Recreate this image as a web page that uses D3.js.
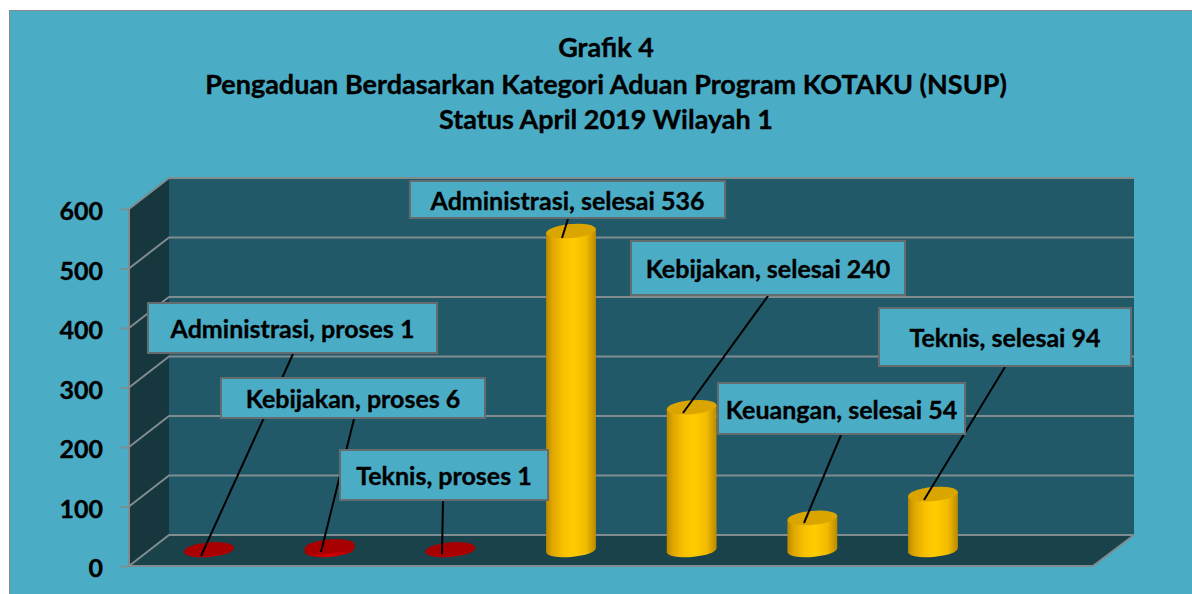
<!DOCTYPE html>
<html><head><meta charset="utf-8">
<script src="https://cdn.jsdelivr.net/npm/d3@7"></script>
<style>html,body{margin:0;padding:0;background:#fff;overflow:hidden}svg{display:block}text{font-family:Lato,sans-serif;font-weight:700;fill:#000;stroke:#000;stroke-width:.35px}</style>
</head><body><svg id="c" width="1192" height="594"></svg>
<script>
const titleLines = ["Grafik 4","Pengaduan Berdasarkan Kategori Aduan Program KOTAKU (NSUP)","Status April 2019 Wilayah 1"];
const categories = ["Administrasi","Kebijakan","Teknis","Administrasi","Kebijakan","Keuangan","Teknis"];
const statuses = ["proses","proses","proses","selesai","selesai","selesai","selesai"];
const values = [1,6,1,536,240,54,94];
const yTicks = [0,100,200,300,400,500,600];
// label layout: box x,y,w,h; leader start and end
const labelBoxes = [[148,303,289,50],[221,378,264,40],[340,450,208,50],[410,181,315,37],[631,241,274,54],[718,383,247,51],[879,308,252,58]];
const leaderStarts = [[293,354],[354,419],[443,501],[568,219],[768,296],[841,435],[1005,367]];
const leaderEnds = [[201,556],[321,552],[442,554],[562,238],[683,413],[804,523],[924,500]];

const svg = d3.select("#c");
const defs = svg.append("defs");
function grad(id,stops){const g=defs.append("linearGradient").attr("id",id).attr("x1",0).attr("x2",1).attr("y1",0).attr("y2",0);
 stops.forEach(s=>g.append("stop").attr("offset",s[0]).attr("stop-color",s[1]));}
grad("gold",[[0,"#b98a00"],[.12,"#dfa600"],[.35,"#f9c200"],[.55,"#ffcc00"],[.8,"#f2bb00"],[1,"#b98a00"]]);
grad("redg",[[0,"#a00000"],[.5,"#d80000"],[1,"#a00000"]]);

svg.append("rect").attr("x",9).attr("y",10).attr("width",1183).attr("height",584).attr("fill","#8a8a8a");
svg.append("rect").attr("x",10).attr("y",11).attr("width",1182).attr("height",583).attr("fill","#4bacc6");

const title = svg.append("g").attr("text-anchor","middle").attr("font-size",27);
titleLines.forEach((t,i)=>title.append("text").attr("x",606).attr("y",[57,94,129][i]).text(t));

const frontLeft=129, backLeft=169, backRight=1134, frontRight=1093, depth=31;
const y = d3.scaleLinear().domain([0,600]).range([566,209]);
const x = d3.scalePoint().domain(d3.range(categories.length)).range([209,933]);
const gridCol="#7f8c90";

svg.append("rect").attr("x",backLeft).attr("y",y(600)-depth).attr("width",backRight-backLeft).attr("height",y(0)-y(600)).attr("fill","#215968");
svg.append("path").attr("d",`M${frontLeft},${y(600)}L${backLeft},${y(600)-depth}V${y(0)-depth}L${frontLeft},${y(0)}Z`).attr("fill","#17373f");
svg.append("path").attr("d",`M${frontLeft},${y(0)}L${backLeft},${y(0)-depth}H${backRight}L${frontRight},${y(0)}Z`).attr("fill","#1a424b");

const grid = svg.append("g").attr("fill","none").attr("stroke",gridCol).attr("stroke-width",2);
yTicks.forEach(v=>{
 grid.append("path").attr("d",`M${frontLeft},${y(v)}L${backLeft},${y(v)-depth}H${backRight}`);
});
grid.append("path").attr("d",`M${frontLeft},${y(600)}V${y(0)}H${frontRight}L${backRight},${y(0)-depth}`);

const axis = d3.axisLeft(y).tickValues(yTicks).tickSize(8).tickPadding(18);
const ag = svg.append("g").attr("transform",`translate(${frontLeft},0)`).call(axis);
ag.select(".domain").remove();
ag.selectAll("line").attr("stroke",gridCol).attr("stroke-width",2);
ag.selectAll("text").attr("font-size",25).attr("dy","0.42em").attr("font-family","Lato");

// cylinders
const rx=25, ry=7, tilt=-5, cyl0=550;
const cy = v => cyl0-(y(0)-y(v));
const rad=tilt*Math.PI/180, ex=rx*Math.cos(rad), ey=rx*Math.sin(rad);
const bars = svg.append("g");
values.forEach((v,i)=>{
 const cx=x(i), top=cy(v), done=statuses[i]==="selesai", fill=done?"url(#gold)":"url(#redg)";
 bars.append("ellipse").attr("rx",rx).attr("ry",ry).attr("transform",`translate(${cx},${cyl0}) rotate(${tilt})`).attr("fill",fill);
 bars.append("path").attr("d",`M${cx-ex},${cyl0-ey}L${cx-ex},${top-ey}L${cx+ex},${top+ey}L${cx+ex},${cyl0+ey}Z`).attr("fill",fill);
 bars.append("ellipse").attr("rx",rx).attr("ry",ry).attr("transform",`translate(${cx},${top}) rotate(${tilt})`).attr("fill",done?"#dba500":"#a80000");
});

// leaders then boxes
const labels = svg.append("g");
leaderStarts.forEach((s,i)=>labels.append("line").attr("x1",s[0]).attr("y1",s[1]).attr("x2",leaderEnds[i][0]).attr("y2",leaderEnds[i][1]).attr("stroke","#000").attr("stroke-width",2));
labelBoxes.forEach((b,i)=>{
 labels.append("rect").attr("x",b[0]).attr("y",b[1]).attr("width",b[2]).attr("height",b[3]).attr("fill","#4bacc6").attr("stroke","#656c70").attr("stroke-width",2);
 labels.append("text").attr("x",b[0]+b[2]/2).attr("y",b[1]+b[3]/2).attr("dy","0.4em").attr("text-anchor","middle").attr("font-size",25)
  .text(`${categories[i]}, ${statuses[i]} ${values[i]}`);
});
</script></body></html>
